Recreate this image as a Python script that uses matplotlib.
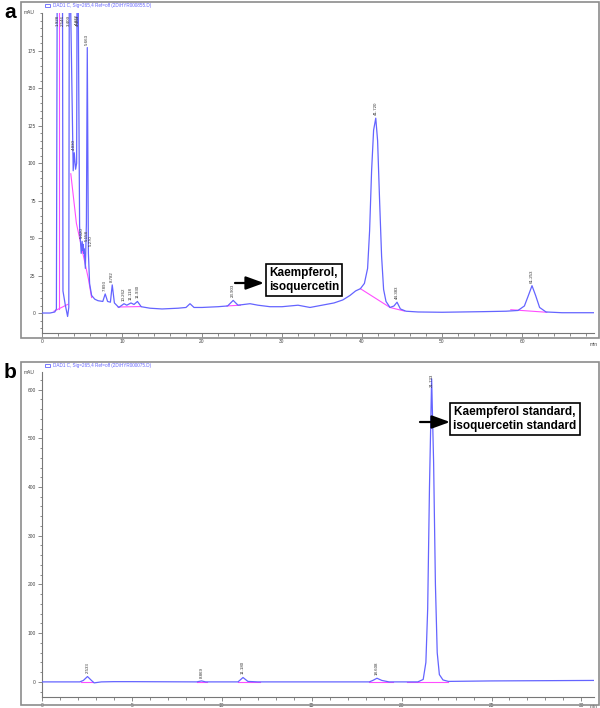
import matplotlib
matplotlib.use("Agg")
import matplotlib.pyplot as plt
from matplotlib.patches import Rectangle
from matplotlib.ticker import MultipleLocator

plt.rcParams['font.family'] = ['Liberation Sans', 'DejaVu Sans']

W, H = 600, 708

# ---- panel a: sample chromatogram (time in min, signal in mAU) ----
a_time = [0.0, 1.0, 1.6, 1.8, 1.92, 2.55, 2.62, 2.9, 3.2, 3.35, 3.42, 3.9, 4.03, 4.2, 4.33,
          4.4, 4.47, 4.7, 4.9, 5.02, 5.1, 5.16, 5.22, 5.28, 5.42, 5.55, 5.66, 5.8, 5.95, 6.2,
          6.6, 7.0, 7.6, 7.9, 8.2, 8.55, 8.78, 9.05, 9.6, 10.25, 10.6, 11.12, 11.5, 11.93, 12.4,
          13.5, 15.0, 17.0, 18.0, 18.5, 19.0, 20.0, 22.0, 23.2, 23.9, 24.5, 26.0, 27.0, 28.5,
          30.0, 31.0, 32.0, 33.5, 35.0, 36.5, 37.6, 38.5, 39.2, 39.8, 40.3, 40.7, 40.95, 41.2,
          41.45, 41.72, 41.95, 42.2, 42.45, 42.7, 43.0, 43.5, 44.0, 44.38, 44.8, 45.5, 47.0,
          50.0, 55.0, 58.0, 59.5, 60.3, 60.8, 61.25, 61.7, 62.2, 63.0, 65.0, 69.0]
a_mau = [0.3, 0.3, 1.0, 3.0, 260, 260, 15, 6, -2, 4, 260, 95, 107, 96, 100,
         260, 260, 58, 40, 48, 42, 46, 40, 43, 30, 60, 177, 40, 20, 12,
         9.5, 8.5, 8.0, 13, 8.0, 7.5, 19, 7.0, 4.0, 6.5, 5.5, 7.0, 6.0, 8.0, 4.5,
         3.5, 3.0, 3.5, 4.0, 6.5, 4.0, 4.0, 4.5, 5.0, 8.7, 5.5, 6.5, 5.5, 4.5,
         4.5, 5.0, 5.5, 4.0, 5.5, 7.0, 9.0, 12, 15, 16.5, 20, 30, 55, 95,
         122, 130, 115, 75, 38, 16, 8.0, 4.0, 5.0, 7.5, 3.0, 1.5, 1.0,
         0.8, 1.2, 1.5, 2.0, 5.0, 12, 18.5, 12, 4.0, 1.0, 0.5, 0.5]

# integration baselines / drop lines (magenta)
a_base = [
    ([1.5, 3.2], [1.5, 6.0]),
    ([2.15, 2.15], [3.0, 260]),
    ([3.6, 4.3, 5.8, 6.2], [93, 60, 23, 10.6]),
    ([9.5, 12.4], [4.3, 4.6]),
    ([23.1, 24.8], [5.0, 5.5]),
    ([39.8, 43.5, 45.3], [16.5, 4.0, 1.6]),
    ([58.6, 63.1], [2.5, 0.8]),
]

a_peak_t = [1.93, 2.55, 3.41, 4.03, 4.37, 4.48, 5.02, 5.16, 5.27, 5.66, 7.89, 8.78,
            10.26, 11.12, 11.93, 23.90, 41.72, 44.38, 61.25]
a_peak_lbl = ["1.928", "2.546", "3.409", "4.030", "4.372", "4.484", "5.020", "5.158",
              "5.270", "5.663", "7.893", "8.782", "10.262", "11.118", "11.930",
              "23.903", "41.720", "44.383", "61.253"]

# ---- panel b: standard ----
b_time = [0.0, 2.1, 2.3, 2.53, 2.75, 2.9, 3.1, 3.3, 4.0, 5.0, 8.6, 8.87, 9.1, 10.9, 11.18,
          11.45, 12.0, 18.2, 18.4, 18.63, 18.9, 19.3, 20.9, 21.2, 21.35, 21.45, 21.55, 21.67,
          21.78, 21.88, 21.98, 22.1, 22.3, 22.6, 25.0, 30.7]
b_mau = [0.0, 0.0, 3.0, 11, 3.0, -2.0, -1.0, 0.0, 0.5, 0.5, 0.0, 2.0, 0.0, 0.0, 9.0,
         1.0, 0.0, 0.0, 3.0, 7.5, 3.0, 0.0, 0.0, 5.0, 40, 150, 400, 622,
         450, 200, 60, 15, 4.0, 1.0, 2.0, 3.0]

b_base = [
    ([2.15, 2.85], [0, 0]),
    ([8.6, 9.2], [0, 0]),
    ([10.9, 12.1], [0, 0]),
    ([18.2, 19.5], [0, 0]),
    ([20.3, 22.6], [0, 0]),
]

b_peak_t = [2.53, 8.87, 11.18, 18.63, 21.67]
b_peak_lbl = ["2.533", "8.869", "11.180", "18.608", "21.733"]

BLUE = "#6464ff"
MAG = "#ff4dff"
GREY = "#777777"

fig = plt.figure(figsize=(W / 100, H / 100), dpi=100)


def px_ax(left, top, right, bottom):
    return fig.add_axes([left / W, 1 - bottom / H, (right - left) / W, (bottom - top) / H])


def frame(left, top, right, bottom):
    fig.patches.append(Rectangle((left / W, 1 - bottom / H), (right - left) / W, (bottom - top) / H,
                                 transform=fig.transFigure, fill=False, edgecolor="#8c8c8c", lw=1.2))


def style(ax, xmaj, xmin, ymaj, ymin):
    for s in ["top", "right"]:
        ax.spines[s].set_visible(False)
    for s in ["left", "bottom"]:
        ax.spines[s].set_color(GREY)
        ax.spines[s].set_linewidth(0.8)
    ax.xaxis.set_major_locator(MultipleLocator(xmaj))
    ax.xaxis.set_minor_locator(MultipleLocator(xmin))
    ax.yaxis.set_major_locator(MultipleLocator(ymaj))
    ax.yaxis.set_minor_locator(MultipleLocator(ymin))
    ax.tick_params(which="both", colors=GREY, labelsize=3.5, width=0.6, labelcolor="#444444")
    ax.tick_params(which="major", length=3, pad=1.5)
    ax.tick_params(which="minor", length=1.8)


def draw(ax, t, y, bases, pk_t, pk_lbl, xlim, ylim, w_px, h_px):
    ax.plot(t, y, color=BLUE, lw=0.9, zorder=3)
    for bt, by in bases:
        ax.plot(bt, by, color=MAG, lw=0.8, zorder=2)
    top = ylim[1]
    # rotated labels are about 4.6 px wide and 14 px tall
    gap = 4.6 * (xlim[1] - xlim[0]) / w_px
    tall = 14 * (ylim[1] - ylim[0]) / h_px
    last = None
    for pt, lbl in zip(pk_t, pk_lbl):
        i = min(range(len(t)), key=lambda k: abs(t[k] - pt))
        h = y[i]
        if h >= top * 0.9:
            ax.text(pt, top * 0.995, lbl, rotation=90, fontsize=3.2, ha="center", va="top",
                    color="#333333", zorder=4)
            continue
        x = pt
        if last is not None and x - last[0] < gap and abs(h - last[1]) < tall:
            x = last[0] + gap
        last = (x, h)
        ax.text(x, h + top * 0.01, lbl, rotation=90, fontsize=3.2, ha="center", va="bottom",
                color="#333333", zorder=4)


ARROW = dict(arrowstyle="-|>,head_width=0.4,head_length=1.1", color="black",
             lw=1.6, shrinkA=0, shrinkB=0)

# ---------------- panel a ----------------
frame(21, 2, 599, 338)
axa = px_ax(42, 13, 594, 333)
xa, ya = (0, 69), (-13, 200)
axa.set_xlim(*xa)
axa.set_ylim(*ya)
style(axa, 10, 2, 25, 5)
axa.set_yticks([0, 25, 50, 75, 100, 125, 150, 175])
draw(axa, a_time, a_mau, a_base, a_peak_t, a_peak_lbl, xa, ya, 552, 320)
axa.text(-0.9, 200, "mAU", fontsize=3.5, ha="right", va="center", color="#444444")
axa.text(69, -13 - 6, "min", fontsize=3.5, ha="center", va="top", color="#444444")
fig.text(4 / W, 1 - 12 / H, "a", fontsize=15, fontweight="bold", va="center")
fig.patches.append(Rectangle((45 / W, 1 - 7 / H), 5 / W, 3 / H, transform=fig.transFigure,
                             fill=False, edgecolor=BLUE, lw=0.6))
fig.text(53 / W, 1 - 5.5 / H, "DAD1 C, Sig=265,4 Ref=off (2D\\HYR000855.D)", fontsize=3.3,
         color=BLUE, va="center")

axa.annotate("", xy=(264 / W, 1 - 283 / H), xytext=(235 / W, 1 - 283 / H),
             xycoords="figure fraction", textcoords="figure fraction", arrowprops=ARROW)
fig.text(304 / W, 1 - 280 / H, "Kaempferol,\nisoquercetin", fontsize=8.5, fontweight="bold",
         ha="center", va="center", linespacing=1.2,
         bbox=dict(boxstyle="square,pad=0.25", facecolor="white", edgecolor="black", lw=1.2))

# ---------------- panel b ----------------
frame(21, 362, 599, 705)
axb = px_ax(42, 372, 594, 697)
xb, yb = (0, 30.7), (-31, 636)
axb.set_xlim(*xb)
axb.set_ylim(*yb)
style(axb, 5, 1, 100, 20)
axb.set_yticks([0, 100, 200, 300, 400, 500, 600])
draw(axb, b_time, b_mau, b_base, b_peak_t, b_peak_lbl, xb, yb, 552, 325)
axb.text(-0.4, 636, "mAU", fontsize=3.5, ha="right", va="center", color="#444444")
axb.text(30.7, -31 - 14, "min", fontsize=3.5, ha="center", va="top", color="#444444")
fig.text(4 / W, 1 - 372 / H, "b", fontsize=15, fontweight="bold", va="center")
fig.patches.append(Rectangle((45 / W, 1 - 367 / H), 5 / W, 3 / H, transform=fig.transFigure,
                             fill=False, edgecolor=BLUE, lw=0.6))
fig.text(53 / W, 1 - 365.5 / H, "DAD1 C, Sig=265,4 Ref=off (2D\\HYR000075.D)", fontsize=3.3,
         color=BLUE, va="center")

axb.annotate("", xy=(450 / W, 1 - 422 / H), xytext=(420 / W, 1 - 422 / H),
             xycoords="figure fraction", textcoords="figure fraction", arrowprops=ARROW)
fig.text(515 / W, 1 - 419 / H, "Kaempferol standard,\nisoquercetin standard", fontsize=8.5,
         fontweight="bold", ha="center", va="center", linespacing=1.2,
         bbox=dict(boxstyle="square,pad=0.3", facecolor="white", edgecolor="black", lw=1.2))

fig.savefig("out.png", dpi=100)
